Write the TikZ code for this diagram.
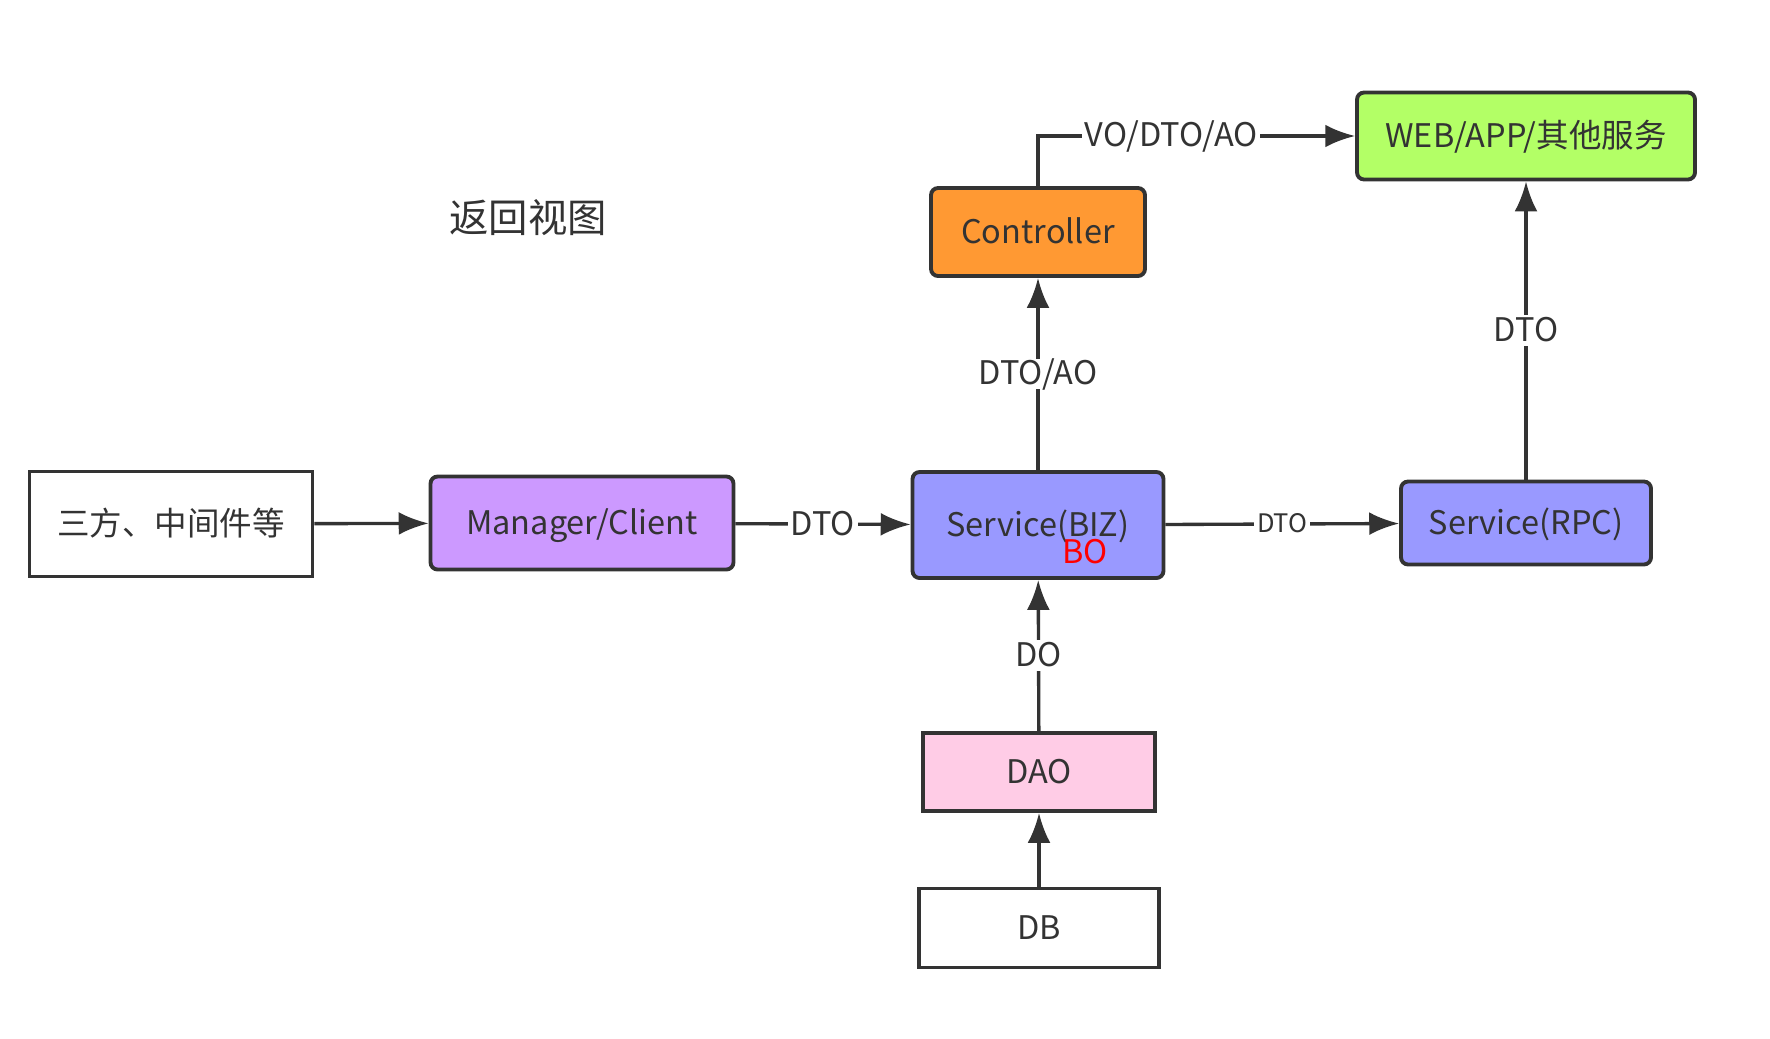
\documentclass[tikz,border=0pt]{standalone}
\usepackage{xcolor}
\usepackage{fontspec}
\setmainfont{Noto Sans CJK SC}
\usepackage{tikz}
\usetikzlibrary{arrows.meta,positioning}

\definecolor{ink}{HTML}{333333}
\definecolor{mgrfill}{HTML}{CC99FF}
\definecolor{svcfill}{HTML}{9999FF}
\definecolor{ctrlfill}{HTML}{FF9933}
\definecolor{webfill}{HTML}{B3FF66}
\definecolor{daofill}{HTML}{FFCCE6}

\begin{document}
\begin{tikzpicture}[x=0.02cm,y=-0.02cm,
    box/.style={draw=ink,line width=2.2pt,text=ink,font=\fontsize{18.5}{22}\selectfont,inner sep=0pt,text height=13.5pt,text depth=0pt},
    rbox/.style={box,rounded corners=4pt},
    flow/.style={ink,line width=1.9pt,-{Latex[length=17pt,width=13pt]}},
    lbl/.style={fill=white,text=ink,inner sep=1.5pt,font=\fontsize{18.5}{22}\selectfont,text height=13.5pt,text depth=1pt}]
    \useasboundingbox (0,0) rectangle (1770,1038);
    \node [text=ink,font=\fontsize{22.4}{26}\selectfont] (title) at (528,218) {返回视图};
    \node [box,minimum width=5.66cm,minimum height=2.1cm] (third) at (171,524) {三方、中间件等};
    \node [rbox,fill=mgrfill,minimum width=6.06cm,minimum height=1.86cm] (mgr) at (582,523) {Manager/Client};
    \node [rbox,fill=svcfill,minimum width=5.02cm,minimum height=2.12cm] (biz) at (1038,525) {Service(BIZ)};
    \node [text=red,font=\fontsize{18.5}{22}\selectfont] (bo) at (1085,552) {BO};
    \node [rbox,fill=svcfill,minimum width=5.0cm,minimum height=1.66cm] (rpc) at (1526,523) {Service(RPC)};
    \node [rbox,fill=ctrlfill,minimum width=4.28cm,minimum height=1.76cm] (ctrl) at (1038,232) {Controller};
    \node [rbox,fill=webfill,minimum width=6.76cm,minimum height=1.74cm] (web) at (1526,136) {WEB/APP/其他服务};
    \node [box,fill=daofill,minimum width=4.64cm,minimum height=1.56cm] (dao) at (1039,772) {DAO};
    \node [box,minimum width=4.8cm,minimum height=1.58cm] (db) at (1039,928) {DB};

    \draw [flow] (third) -- (mgr);
    \draw [flow] (mgr) -- (biz) node [lbl,pos=0.5] {DTO};
    \draw [flow] (biz) -- (rpc) node [lbl,pos=0.5,font=\fontsize{14.5}{17}\selectfont,text height=10.6pt] {DTO};
    \draw [flow] (biz) -- (ctrl) node [lbl,pos=0.5] {DTO/AO};
    \draw [flow] (dao) -- (biz) node [lbl,pos=0.5] {DO};
    \draw [flow] (db) -- (dao);
    \draw [flow] (rpc) -- (web) node [lbl,pos=0.5] {DTO};
    \draw [flow] (ctrl.north) |- (web.west) node [lbl,pos=0.71] {VO/DTO/AO};
  %    \draw (0,0) grid [step=100] (1770,1038);
\end{tikzpicture}
\end{document}
